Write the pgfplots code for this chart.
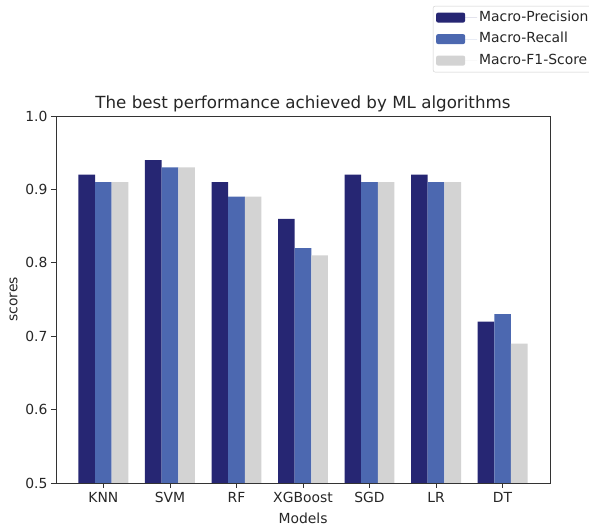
\documentclass[border=0pt]{standalone}
\usepackage{fontspec}
\setmainfont{DejaVu Sans}
\usepackage{pgfplots}
\pgfplotsset{compat=1.18}
\definecolor{cA}{HTML}{262673}
\definecolor{cB}{HTML}{4C68B0}
\definecolor{cC}{HTML}{D3D3D3}
\newcommand{\tf}{\fontsize{13.9pt}{16pt}\selectfont}
\begin{document}
\begin{tikzpicture}
\useasboundingbox (-56pt,-44pt) rectangle (533pt,483pt);
\begin{axis}[
  at={(0pt,0pt)}, anchor=south west,
  scale only axis, width=494pt, height=367pt,
  ybar, bar width=0.25,
  xmin=-0.7125, xmax=6.7125,
  ymin=0.5, ymax=1.0,
  xtick={0,...,6},
  xticklabels={KNN,SVM,RF,XGBoost,SGD,LR,DT},
  ytick={0.5,0.6,0.7,0.8,0.9,1.0},
  yticklabel style={/pgf/number format/.cd, fixed, fixed zerofill, precision=1},
  /pgf/number format/assume math mode=true,
  tick align=outside, major tick length=5pt,
  xtick pos=bottom, ytick pos=left,
  tick style={black!80, line width=0.8pt},
  axis line style={black!80, line width=0.8pt},
  ticklabel style={font=\tf, text=black!85},
  xticklabel style={yshift=-1pt},
  label style={font=\tf, text=black!85},
  xlabel={Models}, ylabel={scores},
  xlabel style={yshift=-3pt},
  ylabel style={yshift=1pt},
  title={The best performance achieved by ML algorithms},
  title style={font=\fontsize{16.7pt}{19pt}\selectfont, text=black!85, at={(0.5,1)}, anchor=base, yshift=1pt},
  legend style={at={(0.763,1.30)}, anchor=north west, draw=black!20, rounded corners=2pt,
    font=\tf, text=black!85, inner xsep=3pt, inner ysep=3pt,
    row sep=4.5pt,
    nodes={inner sep=2pt, text height=10pt, text depth=3pt}},
  legend cell align=left,
]
\addplot[fill=cA, draw=none, bar shift=-0.25, legend image code/.code={\fill[cA] (0pt,-5pt) rectangle (29pt,5pt); \path (0pt,0pt) -- (41pt,0pt);}] coordinates {(0,0.92) (1,0.94) (2,0.91) (3,0.86) (4,0.92) (5,0.92) (6,0.72)};
\addlegendentry{Macro-Precision}
\addplot[fill=cB, draw=none, bar shift=0, legend image code/.code={\fill[cB] (0pt,-5pt) rectangle (29pt,5pt); \path (0pt,0pt) -- (41pt,0pt);}] coordinates {(0,0.91) (1,0.93) (2,0.89) (3,0.82) (4,0.91) (5,0.91) (6,0.73)};
\addlegendentry{Macro-Recall}
\addplot[fill=cC, draw=none, bar shift=0.25, legend image code/.code={\fill[cC] (0pt,-5pt) rectangle (29pt,5pt); \path (0pt,0pt) -- (41pt,0pt);}] coordinates {(0,0.91) (1,0.93) (2,0.89) (3,0.81) (4,0.91) (5,0.91) (6,0.69)};
\addlegendentry{Macro-F1-Score}
\end{axis}
\end{tikzpicture}
\end{document}
